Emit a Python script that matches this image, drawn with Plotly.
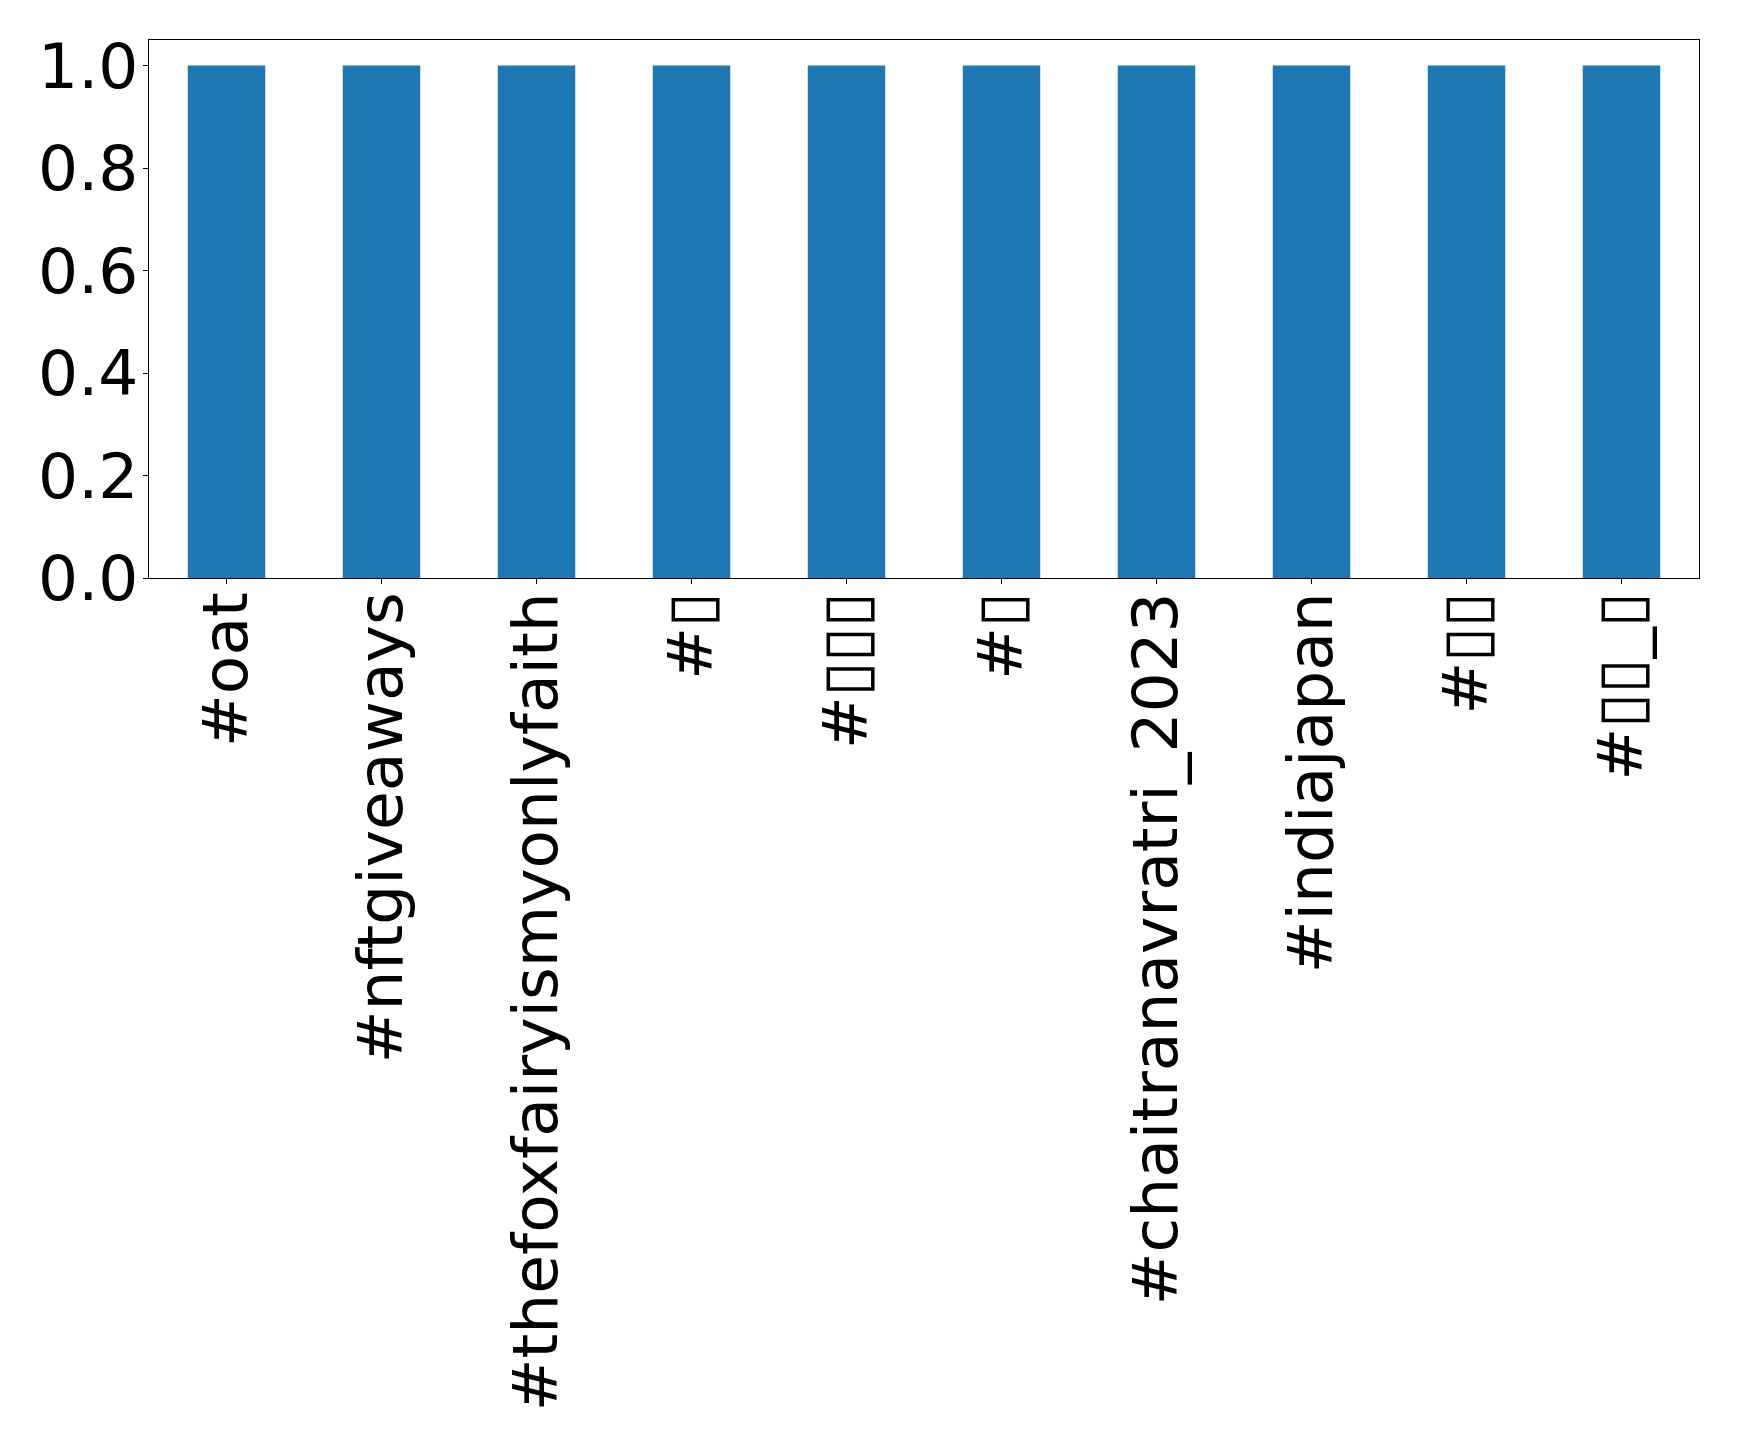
import plotly.graph_objects as go

categories = ["#oat", "#nftgiveaways", "#thefoxfairyismyonlyfaith", "#▯", "#▯▯▯",
              "#▯", "#chaitranavratri_2023", "#indiajapan", "#▯▯", "#▯▯_▯"]
values = [1, 1, 1, 1, 1, 1, 1, 1, 1, 1]
y_ticks = [0.0, 0.2, 0.4, 0.6, 0.8, 1.0]
y_tick_labels = ["0.0", "0.2", "0.4", "0.6", "0.8", "1.0"]

x_pos = list(range(len(categories)))

fig = go.Figure(go.Bar(x=x_pos, y=values, width=0.5, marker=dict(color="#1f77b4", line=dict(width=0))))

font = dict(family="DejaVu Sans", size=63, color="black")
fig.update_layout(
    width=1731, height=1432,
    margin=dict(l=141, r=40, t=32, b=862),
    paper_bgcolor="white", plot_bgcolor="white",
    showlegend=False,
    font=font,
)
fig.update_xaxes(
    range=[-0.5, 9.5], tickmode="array", tickvals=x_pos, ticktext=categories,
    tickangle=-90, ticks="outside", ticklen=5, tickwidth=1.2, tickcolor="black",
    showline=True, linecolor="black", linewidth=1.2, mirror=True,
    showgrid=False, zeroline=False, automargin=False, tickfont=font,
    ticklabelstandoff=-17,
)
fig.update_yaxes(
    range=[0, 1.05], tickmode="array", tickvals=y_ticks, ticktext=y_tick_labels,
    ticks="outside", ticklen=5, tickwidth=1.2, tickcolor="black",
    showline=True, linecolor="black", linewidth=1.2, mirror=True,
    showgrid=False, zeroline=False, automargin=False, tickfont=font,
    ticklabelstandoff=-8,
)
fig.write_html("out.html")
